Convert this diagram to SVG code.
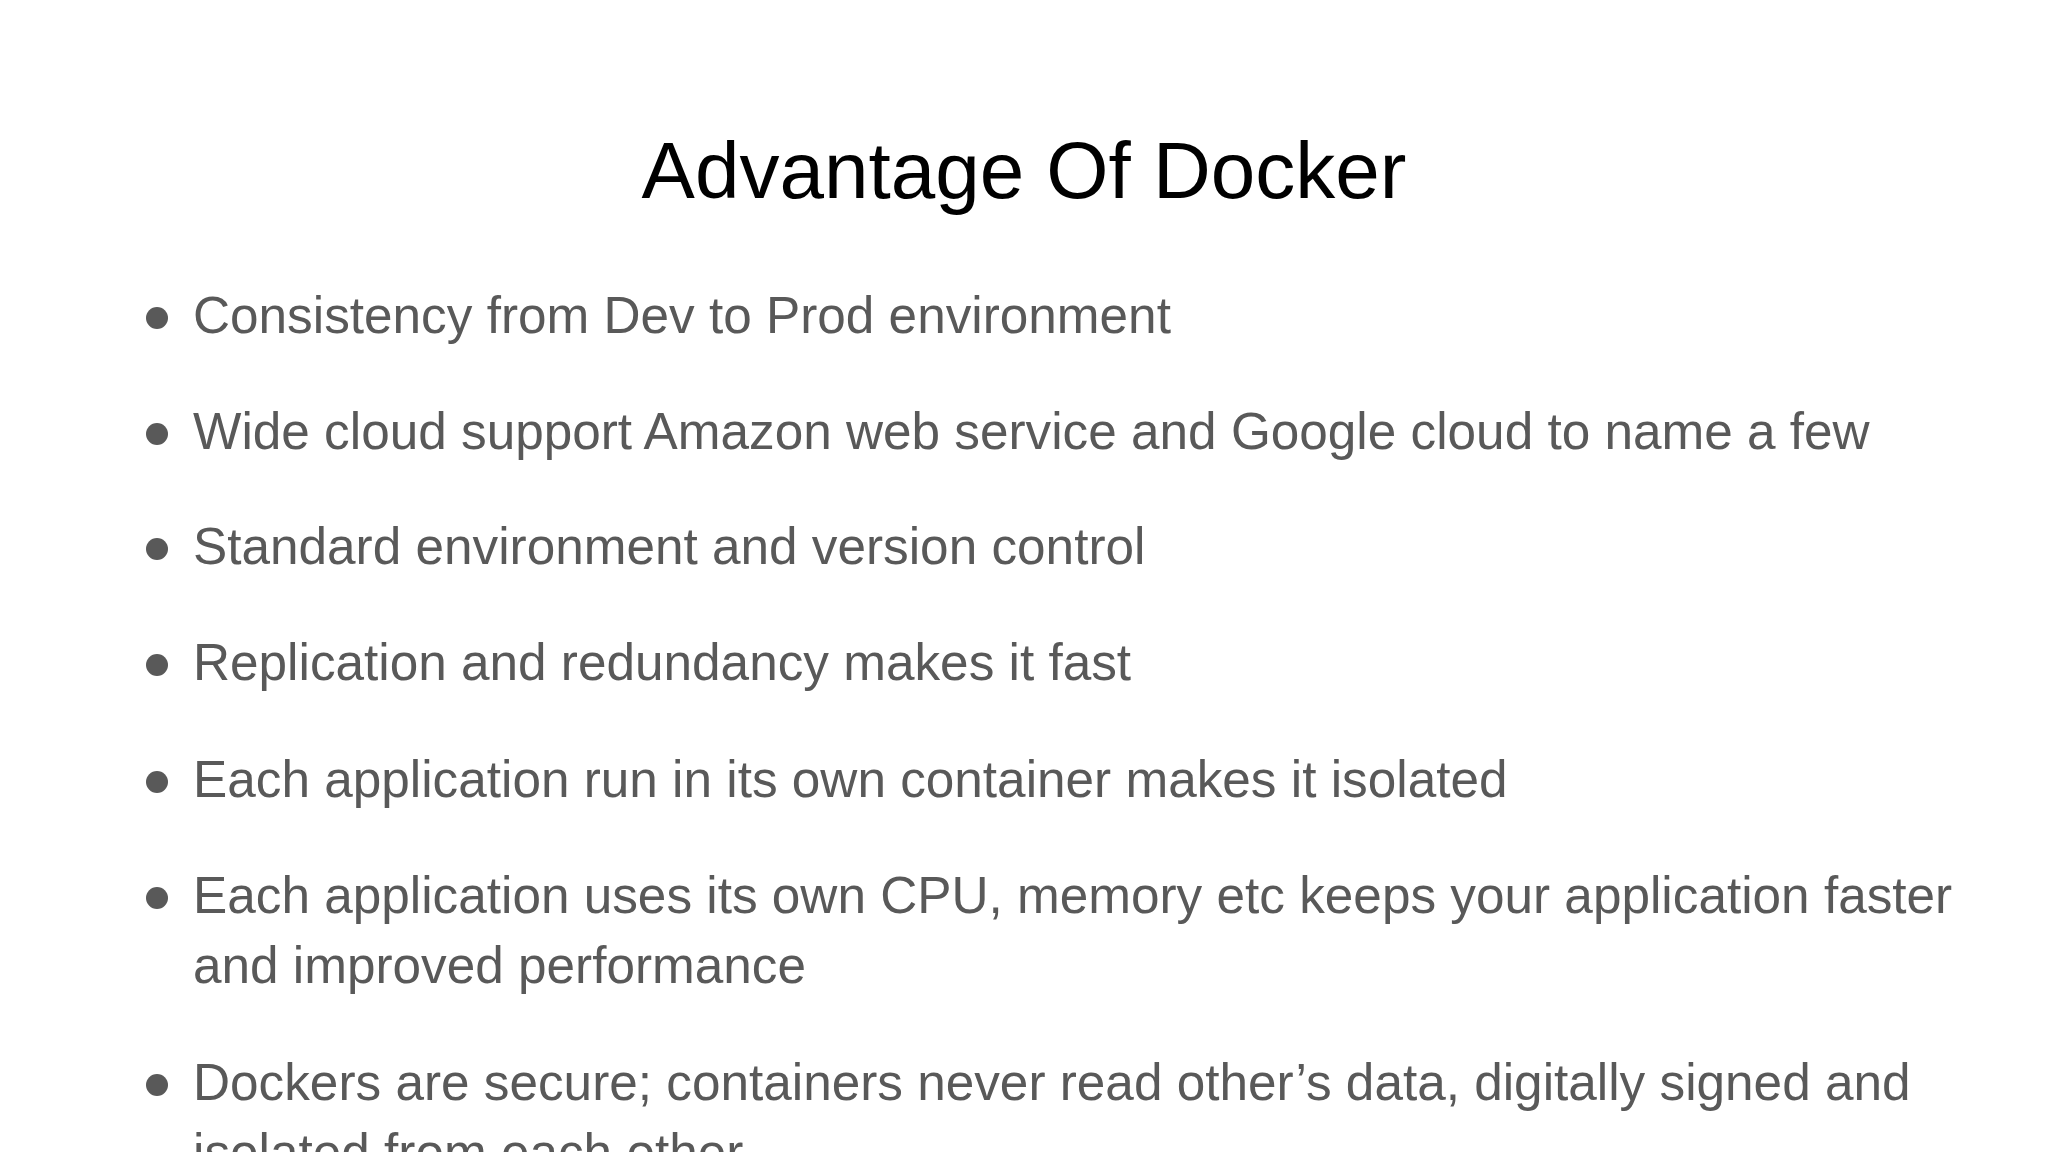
<svg xmlns="http://www.w3.org/2000/svg" width="2048" height="1152" viewBox="0 0 2048 1152">
<style>
.t{font-family:"Liberation Sans",Arial,sans-serif;font-size:51.3px;fill:#595959}
.d{fill:#595959}
</style>
<rect width="2048" height="1152" fill="#fff"/>
<text x="1024" y="198" text-anchor="middle" font-family="Liberation Sans, Arial, sans-serif" font-size="80" fill="#000">Advantage Of Docker</text>
<g id="b1"><circle class="d" cx="157" cy="318" r="11"/><text class="t" x="193" y="333">Consistency from Dev to Prod environment</text></g>
<g id="b2"><circle class="d" cx="157" cy="434" r="11"/><text class="t" x="193" y="449">Wide cloud support Amazon web service and Google cloud to name a few</text></g>
<g id="b3"><circle class="d" cx="157" cy="549" r="11"/><text class="t" x="193" y="564">Standard environment and version control</text></g>
<g id="b4"><circle class="d" cx="157" cy="665" r="11"/><text class="t" x="193" y="680">Replication and redundancy makes it fast</text></g>
<g id="b5"><circle class="d" cx="157" cy="782" r="11"/><text class="t" x="193" y="797">Each application run in its own container makes it isolated</text></g>
<g id="b6"><circle class="d" cx="157" cy="898" r="11"/><text class="t" x="193" y="913">Each application uses its own CPU, memory etc keeps your application faster</text><text class="t" x="193" y="983">and improved performance</text></g>
<g id="b7"><circle class="d" cx="157" cy="1085" r="11"/><text class="t" x="193" y="1100">Dockers are secure; containers never read other’s data, digitally signed and</text><text class="t" x="193" y="1170">isolated from each other</text></g>
</svg>
